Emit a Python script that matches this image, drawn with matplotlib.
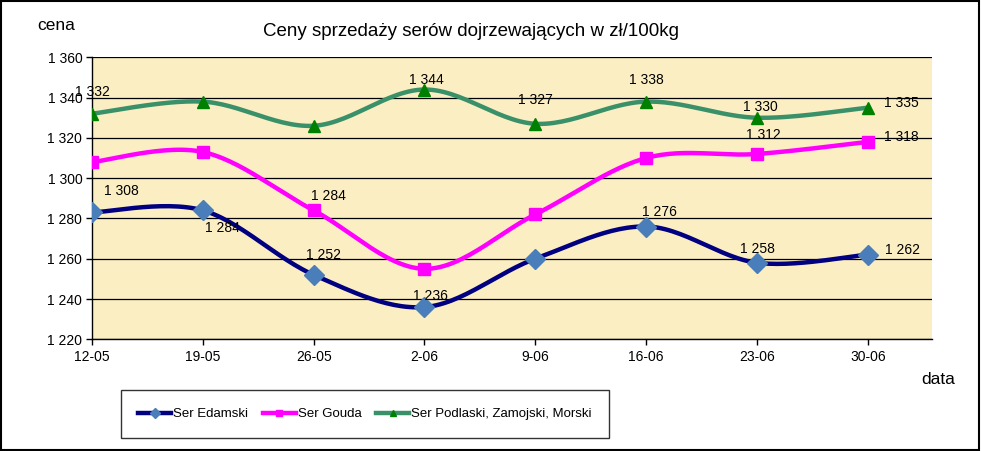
import numpy as np
import matplotlib
matplotlib.use("Agg")
import matplotlib.pyplot as plt
from matplotlib.lines import Line2D
from matplotlib.patches import Rectangle

plt.rcParams["font.family"] = ["Liberation Sans", "DejaVu Sans"]

dates = ["12-05", "19-05", "26-05", "2-06", "9-06", "16-06", "23-06", "30-06"]
edamski = [1283, 1284, 1252, 1236, 1260, 1276, 1258, 1262]
gouda = [1308, 1313, 1284, 1255, 1282, 1310, 1312, 1318]
podlaski = [1332, 1338, 1326, 1344, 1327, 1338, 1330, 1335]

# data labels as they appear in the picture (None = no label)
edamski_lbl = ["1 308", "1 284", "1 252", "1 236", None, "1 276", "1 258", "1 262"]
gouda_lbl = [None, None, "1 284", None, None, None, "1 312", "1 318"]
podlaski_lbl = ["1 332", None, None, "1 344", "1 327", "1 338", "1 330", "1 335"]

# label offsets in pixels (dx, dy up)
edamski_off = [(29, 21), (20, -18), (10, 20), (6, 11), None, (13, 15), (1, 14), (35, 5)]
gouda_off = [None, None, (15, 14), None, None, None, (6, 19), (34, 5)]
podlaski_off = [(0, 22), None, None, (2, 10), (0, 24), (0, 22), (3, 11), (34, 5)]


def smooth(x, y, n=30):
    # Excel-like smoothed line: cubic Bezier with Catmull-Rom control points
    pts = np.column_stack([x, y]).astype(float)
    p = np.vstack([pts[0], pts, pts[-1]])
    out = []
    t = np.linspace(0, 1, n)[:, None]
    for i in range(1, len(p) - 2):
        p0, p3 = p[i], p[i + 1]
        c1 = p0 + (p[i + 1] - p[i - 1]) / 6
        c2 = p3 - (p[i + 2] - p[i]) / 6
        seg = ((1 - t) ** 3) * p0 + 3 * ((1 - t) ** 2) * t * c1 + 3 * (1 - t) * t ** 2 * c2 + t ** 3 * p3
        out.append(seg if i == 1 else seg[1:])
    out = np.vstack(out)
    return out[:, 0], out[:, 1]


fig = plt.figure(figsize=(9.81, 4.51), dpi=100)
ax = fig.add_axes([92 / 981, 1 - 339.3 / 451, (932 - 92) / 981, (339.3 - 57.3) / 451])
ax.set_facecolor("#FCEEC3")

x = np.arange(len(dates))
series = [
    (edamski, edamski_lbl, edamski_off, "#000080", "D", "#4A7EBB", 10, "Ser Edamski"),
    (gouda, gouda_lbl, gouda_off, "#FF00FF", "s", "#FF00FF", 9, "Ser Gouda"),
    (podlaski, podlaski_lbl, podlaski_off, "#3A9169", "^", "#008000", 9, "Ser Podlaski, Zamojski, Morski"),
]

handles = []
for vals, lbls, offs, lc, mk, mc, ms, name in series:
    sx, sy = smooth(x, vals)
    ax.plot(sx, sy, color=lc, lw=3.2, zorder=3, solid_capstyle="round")
    ax.plot(x, vals, ls="none", marker=mk, color=mc, ms=ms, mec=mc, zorder=4)
    for i, (lb, of) in enumerate(zip(lbls, offs)):
        if lb is None:
            continue
        ax.annotate(lb, (x[i], vals[i]), xytext=of, textcoords="offset pixels",
                    ha="center", va="center", fontsize=10, zorder=5)
    handles.append(Line2D([], [], color=lc, lw=3.2, marker=mk, mfc=mc, mec=mc, ms=5, label=name))

ax.set_xlim(0, 7.58)
ax.set_ylim(1220, 1360)
ax.set_yticks(np.arange(1220, 1361, 20))
ax.set_yticklabels([f"{v:,}".replace(",", " ") for v in range(1220, 1361, 20)])
ax.set_xticks(x)
ax.set_xticklabels(dates)
ax.grid(axis="y", color="black", lw=0.9)
ax.set_axisbelow(True)
for s in ["top", "right"]:
    ax.spines[s].set_visible(False)
for s in ["left", "bottom"]:
    ax.spines[s].set_linewidth(1.0)
ax.tick_params(axis="both", labelsize=10, length=4, width=1, direction="out")
ax.tick_params(axis="y", pad=3)
ax.tick_params(axis="x", pad=4)

fig.text(471 / 981, 1 - 32 / 451, "Ceny sprzedaży serów dojrzewających w zł/100kg",
         ha="center", va="center", fontsize=13.5)
fig.text(37 / 981, 1 - 25 / 451, "cena", ha="left", va="center", fontsize=12.5)
fig.text(921 / 981, 1 - 380 / 451, "data", ha="left", va="center", fontsize=12.5)

leg = fig.legend(handles=handles, ncol=3, loc="center",
                 bbox_to_anchor=(365 / 981, 1 - 414 / 451), fontsize=9.5,
                 frameon=True, fancybox=False, edgecolor="black", handlelength=2.5,
                 columnspacing=1.1, handletextpad=0.15, borderpad=1.35, borderaxespad=0)
leg.get_frame().set_linewidth(1.0)

fig.patches.append(Rectangle((0.001, 0.002), 0.997, 0.995, transform=fig.transFigure,
                             fill=False, edgecolor="black", lw=1.5))

fig.savefig("out.png", dpi=100)
